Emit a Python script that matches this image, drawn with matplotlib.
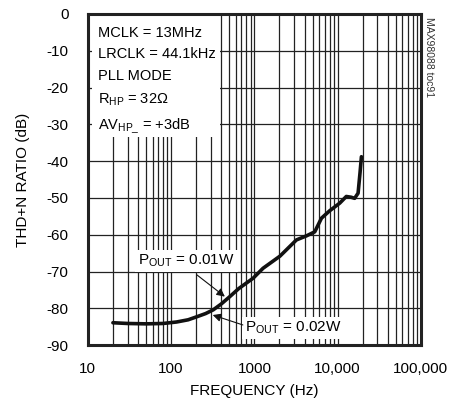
import matplotlib
matplotlib.use("Agg")
import matplotlib.pyplot as plt
from matplotlib import font_manager
from matplotlib.patches import Rectangle

# ---- data ----
freq_hz = [20, 30, 50, 80, 116, 160, 202, 260, 320, 400, 507, 650, 966, 1271,
           2030, 3200, 4217, 5310, 6390, 8000, 10600, 12700, 14500, 16000,
           17600, 18600, 19300]
thdn_db = [-83.9, -84.1, -84.2, -84.1, -83.7, -83.1, -82.3, -81.4, -80.4, -78.8,
           -76.8, -74.6, -71.8, -69.1, -65.8, -61.4, -60.3, -59.2, -55.5, -53.5,
           -51.4, -49.6, -49.8, -50.1, -48.7, -43.0, -38.8]

x_ticks = [10, 100, 1000, 10000, 100000]
x_labels = ["10", "100", "1000", "10,000", "100,000"]
y_ticks = [0, -10, -20, -30, -40, -50, -60, -70, -80, -90]

avail = {f.name for f in font_manager.fontManager.ttflist}
fam = "Liberation Sans Narrow" if "Liberation Sans Narrow" in avail else "Liberation Sans"
plt.rcParams["font.family"] = [fam, "DejaVu Sans"]
plt.rcParams["mathtext.default"] = "regular"

fig = plt.figure(figsize=(4.6, 4.09), dpi=100)
ax = fig.add_axes([0.191, 0.156, 0.724, 0.810])

ax.set_xscale("log")
ax.set_xlim(10, 100000)
ax.set_ylim(-90, 0)
ax.set_xticks(x_ticks)
ax.set_xticklabels(x_labels)
ax.set_yticks(y_ticks)
ax.set_yticklabels([str(v) for v in y_ticks])
ax.tick_params(axis="both", which="both", length=0, labelsize=11)
ax.tick_params(axis="x", pad=12)
ax.tick_params(axis="y", pad=14)
ax.grid(True, which="major", color="#222222", lw=0.9)
ax.grid(True, which="minor", axis="x", color="#222222", lw=0.9)
for s in ax.spines.values():
    s.set_linewidth(2.2)
    s.set_color("#222222")
    s.set_zorder(5)

ax.plot(freq_hz, thdn_db, color="#111111", lw=2.6, zorder=4,
        solid_capstyle="round")

ax.set_xlabel("FREQUENCY (Hz)", fontsize=11, labelpad=6)
ax.set_ylabel("THD+N RATIO (dB)", fontsize=11, labelpad=12)

# condition box (white background hides grid)
ax.add_patch(Rectangle((0.012, 0.628), 0.385, 0.366, transform=ax.transAxes,
                       fc="white", ec="none", zorder=3))
cond = "MCLK = 13MHz\nLRCLK = 44.1kHz\nPLL MODE\nR$_{HP}$ = 32\u03a9\nAV$_{HP\\_}$ = +3dB"
ax.text(0.03, 0.965, cond, transform=ax.transAxes, va="top", ha="left",
        fontsize=10.5, linespacing=1.7, zorder=3.5)

ax.text(40, -67.1, "P$_{OUT}$ = 0.01W", fontsize=11, zorder=3, va="center",
        bbox=dict(boxstyle="square,pad=0.2", fc="white", ec="none"))
ax.annotate("", xy=(442, -76.8), xytext=(204, -70.9), zorder=3,
            arrowprops=dict(arrowstyle="-|>", color="#111111", lw=0.8,
                            shrinkA=0, shrinkB=0, mutation_scale=12))
ax.text(767, -85.3, "P$_{OUT}$ = 0.02W", fontsize=11, zorder=3, va="center",
        bbox=dict(boxstyle="square,pad=0.2", fc="white", ec="none"))
ax.annotate("", xy=(316, -81.8), xytext=(727, -84.5), zorder=3,
            arrowprops=dict(arrowstyle="-|>", color="#111111", lw=0.8,
                            shrinkA=0, shrinkB=0, mutation_scale=12))

fig.text(0.932, 0.958, "MAX98088 toc91", rotation=270, va="top", ha="center",
         fontsize=7.5, color="#333333")

fig.savefig("out.png", dpi=100)
